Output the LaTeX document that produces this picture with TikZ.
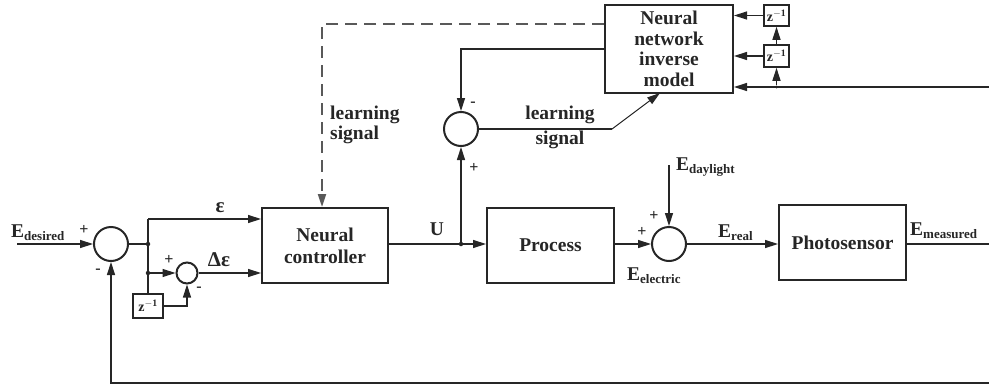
\documentclass[tikz,border=0pt]{standalone}
\usepackage{fontspec}
\setmainfont{Liberation Serif}
\usetikzlibrary{arrows.meta}
\begin{document}
\begin{tikzpicture}[x=1pt,y=-1pt,color=black!85,
  ln/.style={line width=1.4pt},
  sig/.style={line width=1.4pt,-{Triangle[length=13pt,width=8pt]}},
  blk/.style={draw,line width=2pt,align=center,inner sep=0pt,
    font=\bfseries\fontsize{19.5}{22}\selectfont},
  sumc/.style={circle,draw,line width=2pt,minimum size=34pt,inner sep=0pt},
  jdot/.style={circle,fill,minimum size=4.5pt,inner sep=0pt},
  lbl/.style={inner sep=0pt,font=\bfseries\fontsize{19.5}{20}\selectfont},
  sgn/.style={inner sep=0pt,font=\bfseries\fontsize{16}{16}\selectfont},
  zbox/.style={draw,line width=1.6pt,inner sep=0pt,
    font=\bfseries\fontsize{14}{14}\selectfont},
  dsh/.style={line width=2pt,draw=black!65,dash pattern=on 12pt off 7pt}
]
\useasboundingbox (0,0) rectangle (989,386);

% blocks
\node[blk,minimum width=126pt,minimum height=75pt] (nc) at (325,245.5) {Neural\\controller};
\node[blk,minimum width=127pt,minimum height=75pt] (pr) at (550.5,245.5) {Process};
\node[blk,minimum width=127pt,minimum height=75pt] (ps) at (842.5,242.5) {Photosensor};
\node[blk,minimum width=128pt,minimum height=88pt,font=\bfseries\fontsize{19.5}{20.5}\selectfont] (nn) at (669,49) {Neural\\network\\inverse\\model};

% summing junctions
\node[sumc] (s1) at (111,244) {};
\node[sumc,minimum size=21pt] (s2) at (187,273) {};
\node[sumc] (s3) at (461,129) {};
\node[sumc] (s4) at (669,244) {};

% delay boxes
\node[zbox,minimum width=30pt,minimum height=24pt] (z0) at (148,306) {z$^{\mathbf{-1}}$};
\node[zbox,minimum width=25pt,minimum height=21pt] (z1) at (776.5,15.5) {z$^{\mathbf{-1}}$};
\node[zbox,minimum width=25pt,minimum height=22pt] (z2) at (776.5,56) {z$^{\mathbf{-1}}$};

% junction dots
\node[jdot] (d1) at (148,244) {};
\node[jdot] (d2) at (148,273) {};
\node[jdot] (d3) at (461,244) {};
\node[jdot,minimum size=3pt] (d4) at (776.5,87) {};

% coordinates
\coordinate (in) at (17,244);
\coordinate (eps) at (148,219);
\coordinate (outR) at (989,244);
\coordinate (botR) at (989,383);
\coordinate (botL) at (111,383);
\coordinate (nnR) at (989,87);
\coordinate (day) at (669,165);
\coordinate (ls) at (612,129);
\coordinate (nnB) at (660,93);
\coordinate (dL) at (322,24);
\coordinate (fL) at (461,49);

% forward path
\draw[sig] (in) -- (s1.west);
\draw[ln] (s1.east) -- (d1);
\draw[ln] (eps) -- (z0.north);
\draw[sig] (eps) -- (eps -| nc.west);
\draw[sig] (d2) -- (s2.west);
\draw[sig] (z0.east) -| (s2.south);
\draw[sig] (s2.east) -- (s2.east -| nc.west);
\draw[ln] (nc.east |- d3) -- (d3);
\draw[sig] (d3) -- (d3 -| pr.west);
\draw[sig] (pr.east |- s4) -- (s4.west);
\draw[sig] (day) -- (s4.north);
\draw[sig] (s4.east) -- (s4.east -| ps.west);
\draw[ln] (ps.east |- outR) -- (outR);

% feedback
\draw[sig] (botR) -- (botL) -- (s1.south);

% learning path
\draw[sig] (d3) -- (s3.south);
\draw[sig] (nn.west |- fL) -- (fL) -- (s3.north);
\draw[ln] (s3.east) -- (ls);
\draw[line width=1pt,-{Triangle[length=13pt,width=8pt]}] (ls) -- (nnB);
\draw[dsh,-{Triangle[length=13pt,width=8pt]}] (nn.west |- dL) -- (dL) -- (dL |- nc.north);

% delay line to inverse model
\draw[sig] (nnR) -- (nnR -| nn.east);
\draw[sig] (d4) -- (z2.south);
\draw[sig] (z2.north) -- (z1.south);
\draw[sig] (z1.west) -- (z1.west -| nn.east);
\draw[sig] (z2.west) -- (z2.west -| nn.east);

% labels
\node[lbl,anchor=base west] (lEd) at (11,237) {E\textsubscript{\fontsize{13}{13}\selectfont desired}};
\node[sgn] (p1) at (84,230) {+};
\node[sgn] (m1) at (98,271) {-};
\node[lbl,anchor=base] (lEps) at (220,212) {\fontsize{21}{21}\selectfont ε};
\node[sgn] (p2) at (169,260) {+};
\node[sgn] (m2) at (199,289) {-};
\node[lbl,anchor=base] (lDE) at (219,266) {\fontsize{21}{21}\selectfont Δε};
\node[lbl,anchor=base] (lU) at (437,235) {U};
\node[sgn] (m3) at (473,104) {-};
\node[sgn] (p3) at (474,168) {+};
\node[lbl,anchor=north west,align=left] (lLS1) at (330,106) {learning\\signal};
\node[lbl,anchor=north,align=center] (lLS2) at (560,106) {learning\\[5pt]signal};
\node[lbl,anchor=base west] (lEdl) at (676,170) {E\textsubscript{\fontsize{13}{13}\selectfont daylight}};
\node[sgn] (p4) at (654,216) {+};
\node[sgn] (p5) at (642,232) {+};
\node[lbl,anchor=base west] (lEel) at (627,280) {E\textsubscript{\fontsize{13}{13}\selectfont electric}};
\node[lbl,anchor=base west] (lEr) at (718,237) {E\textsubscript{\fontsize{13}{13}\selectfont real}};
\node[lbl,anchor=base west] (lEm) at (910,235) {E\textsubscript{\fontsize{13}{13}\selectfont measured}};
\end{tikzpicture}
\end{document}
